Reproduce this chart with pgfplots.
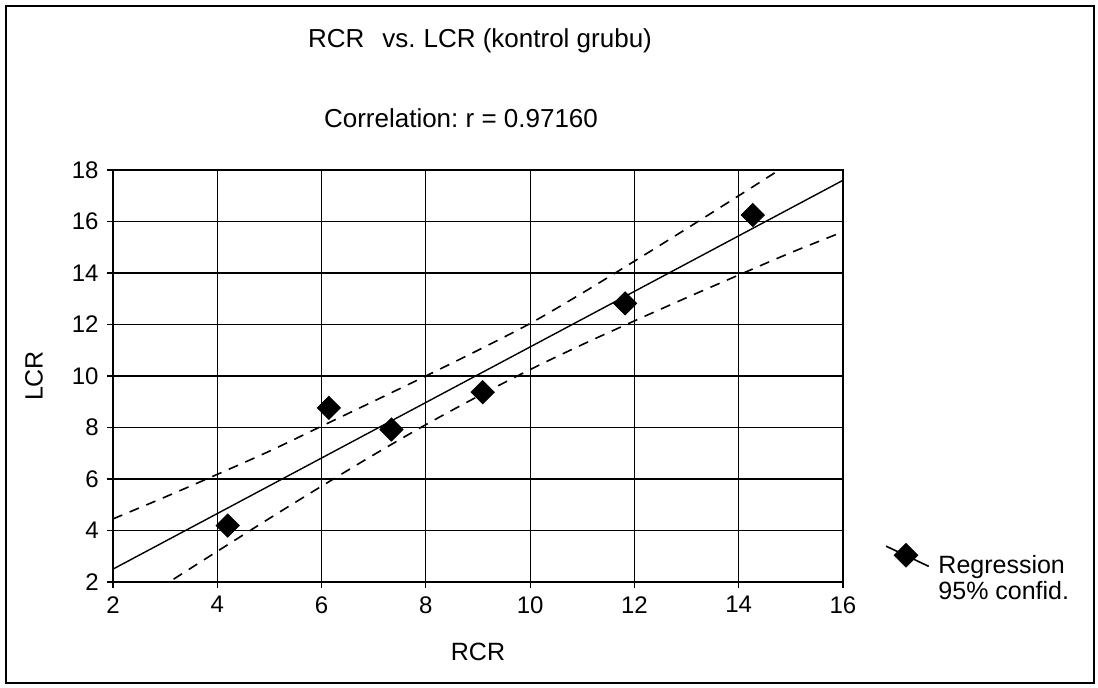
\documentclass[border=0pt]{standalone}
\usepackage{pgfplots}
\pgfplotsset{compat=1.18}
\usepackage{fontspec}
\setmainfont{Liberation Sans}
\frenchspacing
\begin{document}
\begin{tikzpicture}
\fontsize{12}{14}\selectfont
\begin{axis}[
  scale only axis,
  width=365pt, height=206pt,
  xmin=2, xmax=16, ymin=2, ymax=18,
  xtick={2,4,...,16}, ytick={2,4,...,18},
  grid=major,
  major grid style={black, line width=0.6pt},
  axis line style={black, line width=0.9pt},
  tick style={black, line width=0.6pt},
  major tick length=3pt,
  tick align=outside,
  xtick pos=bottom, ytick pos=left,
  /pgf/number format/assume math mode=true,
  ticklabel style={font=\fontsize{12}{14}\selectfont},
  xlabel={RCR}, ylabel={LCR},
  label style={font=\fontsize{12.5}{14}\selectfont},
  xlabel style={at={(axis description cs:0.5,0)}, anchor=center, yshift=-35pt},
  ylabel style={at={(axis description cs:0,0.5)}, anchor=center, yshift=39.5pt},
  clip=true,
  legend style={at={(rel axis cs:1,0)}, anchor=north west, xshift=15.5pt, yshift=21.5pt,
    draw=none, fill=none, font=\fontsize{12.5}{12.5}\selectfont, cells={anchor=west}},
  legend cell align=left,
  legend image code/.code={
    \path[draw=none, fill=none] (0cm,0cm) -- (0.95cm,0cm);
    \draw[black, line width=0.8pt] (0.1cm,0.47cm) -- (0.85cm,0.115cm);
    \draw[black, fill=black] plot[mark=square*, mark size=4.2pt, mark options={rotate=45}] coordinates {(0.45cm,0.31cm)};
  },
]
\addplot[black, line width=0.7pt, forget plot] coordinates {(2,2.50) (16,17.60)};
\addplot[black, line width=0.8pt, dash pattern=on 5pt off 4pt, smooth, forget plot] coordinates {
 (2,4.45) (3,5.30) (4,6.18) (5,7.08) (6,8.05) (7,9.02) (8,10.00) (9,11.00)
 (10,12.04) (11,13.22) (12,14.46) (13,15.72) (14,17.00) (15,18.29) (16,19.59)};
\addplot[black, line width=0.8pt, dash pattern=on 5pt off 4pt, smooth, forget plot] coordinates {
 (2,0.60) (3,1.90) (4,3.19) (5,4.47) (6,5.72) (7,6.94) (8,8.11) (9,9.21)
 (10,10.25) (11,11.22) (12,12.14) (13,13.04) (14,13.92) (15,14.79) (16,15.60)};
\addplot[only marks, mark=square*, mark size=4.1pt, mark options={rotate=45, fill=black, draw=black}] coordinates {
 (4.20,4.19) (6.14,8.76) (7.34,7.92) (9.09,9.37) (11.82,12.82) (14.27,16.25)};
\addlegendentry{\begin{tabular}{@{}l@{}}Regression\\95\% confid.\end{tabular}}
\end{axis}
\node[font=\fontsize{13}{15}\selectfont] at ([xshift=183.5pt,yshift=64.5pt]current axis.north west) {RCR\hspace{9pt}vs.\hspace{4pt}LCR (kontrol grubu)};
\node[font=\fontsize{13}{15}\selectfont] at ([xshift=174pt,yshift=26pt]current axis.north west) {Correlation: r = 0.97160};
\draw[black, line width=0.6pt] ([xshift=-53.5pt,yshift=-50.5pt]current axis.south west) rectangle ([xshift=125.5pt,yshift=82pt]current axis.north east);
\path ([xshift=-56.5pt,yshift=-53pt]current axis.south west) rectangle ([xshift=127.5pt,yshift=85pt]current axis.north east);
\end{tikzpicture}
\end{document}
